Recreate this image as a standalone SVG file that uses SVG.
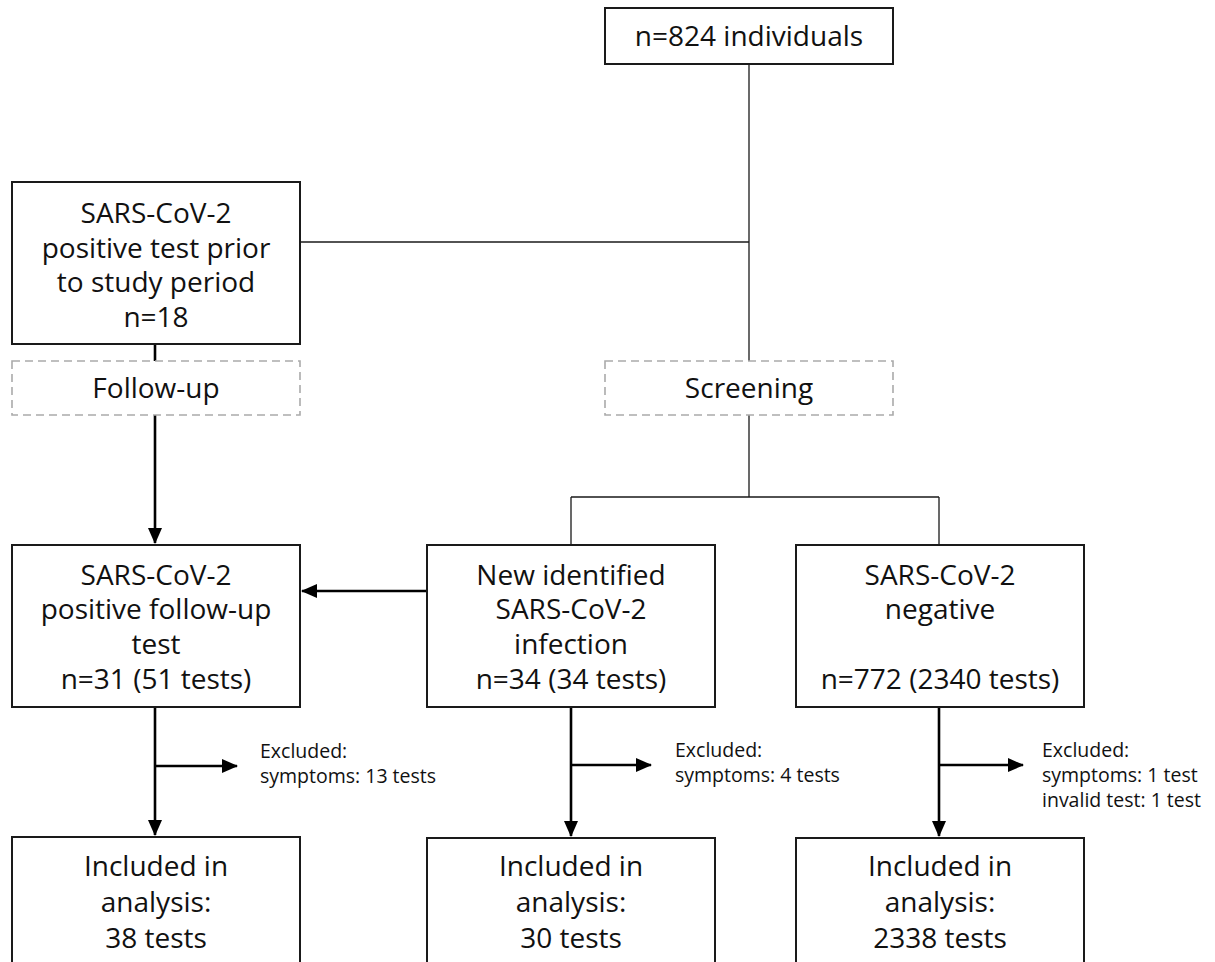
<svg xmlns="http://www.w3.org/2000/svg" width="1215" height="962" viewBox="0 0 1215 962">
<style>
.box{fill:#fff;stroke:#1a1a1a;stroke-width:2}
.dbox{fill:#fff;stroke:#aaa;stroke-width:1.6;stroke-dasharray:8,5}
.t{font-family:"Open Sans","Noto Sans",sans-serif;font-size:28px;fill:#111;text-anchor:middle}
.s{font-family:"Open Sans","Noto Sans",sans-serif;font-size:19.5px;fill:#111}
.thin{stroke:#1a1a1a;stroke-width:1.3;fill:none}
.thick{stroke:#000;stroke-width:2.6;fill:none}
</style>
<defs>
<marker id="ah" markerWidth="16" markerHeight="14" refX="15" refY="7" orient="auto" markerUnits="userSpaceOnUse">
<path d="M0,0 L16,7 L0,14 Z" fill="#000"/>
</marker>
</defs>
<g id="connectors">
<path class="thin" d="M749,64 V361"/>
<path class="thin" d="M300,242 H749"/>
<path class="thick" d="M155,344 V361"/>
<path class="thin" d="M749,415 V497 M571,497 H939 M571,497 V545 M939,497 V545"/>
<path class="thick" d="M155,415 V543" marker-end="url(#ah)"/>
<path class="thick" d="M427,591 H302" marker-end="url(#ah)"/>
<path class="thick" d="M155,707 V835" marker-end="url(#ah)"/>
<path class="thick" d="M571,707 V836" marker-end="url(#ah)"/>
<path class="thick" d="M939,707 V836" marker-end="url(#ah)"/>
<path class="thick" d="M155,766 H237" marker-end="url(#ah)"/>
<path class="thick" d="M571,765 H651" marker-end="url(#ah)"/>
<path class="thick" d="M939,765 H1023" marker-end="url(#ah)"/>
</g>
<g id="top">
<rect class="box" x="605" y="8" width="288" height="56"/>
<text class="t" x="749" y="46">n=824 individuals</text>
</g>
<g id="prior">
<rect class="box" x="12" y="182" width="288" height="162"/>
<text class="t" x="156" y="223">SARS-CoV-2<tspan x="156" dy="35">positive test prior</tspan><tspan x="156" dy="34">to study period</tspan><tspan x="156" dy="35">n=18</tspan></text>
</g>
<g id="followup">
<rect class="dbox" x="12" y="361" width="288" height="54"/>
<text class="t" x="156" y="398">Follow-up</text>
</g>
<g id="screening">
<rect class="dbox" x="605" y="361" width="288" height="54"/>
<text class="t" x="749" y="398">Screening</text>
</g>
<g id="posfollow">
<rect class="box" x="12" y="545" width="288" height="162"/>
<text class="t" x="156" y="585">SARS-CoV-2<tspan x="156" dy="34">positive follow-up</tspan><tspan x="156" dy="35">test</tspan><tspan x="156" dy="35">n=31 (51 tests)</tspan></text>
</g>
<g id="newinf">
<rect class="box" x="427" y="545" width="288" height="162"/>
<text class="t" x="571" y="585">New identified<tspan x="571" dy="34">SARS-CoV-2</tspan><tspan x="571" dy="35">infection</tspan><tspan x="571" dy="35">n=34 (34 tests)</tspan></text>
</g>
<g id="negative">
<rect class="box" x="796" y="545" width="288" height="162"/>
<text class="t" x="940" y="585">SARS-CoV-2<tspan x="940" dy="34">negative</tspan><tspan x="940" dy="70">n=772 (2340 tests)</tspan></text>
</g>
<g id="excl1">
<text class="s" x="260" y="758">Excluded:<tspan x="260" dy="25">symptoms: 13 tests</tspan></text>
</g>
<g id="excl2">
<text class="s" x="675" y="757">Excluded:<tspan x="675" dy="25">symptoms: 4 tests</tspan></text>
</g>
<g id="excl3">
<text class="s" x="1042" y="757">Excluded:<tspan x="1042" dy="25">symptoms: 1 test</tspan><tspan x="1042" dy="25">invalid test: 1 test</tspan></text>
</g>
<g id="inc1">
<rect class="box" x="12" y="837" width="288" height="140"/>
<text class="t" x="156" y="876">Included in<tspan x="156" dy="36">analysis:</tspan><tspan x="156" dy="36">38 tests</tspan></text>
</g>
<g id="inc2">
<rect class="box" x="427" y="838" width="288" height="140"/>
<text class="t" x="571" y="876">Included in<tspan x="571" dy="36">analysis:</tspan><tspan x="571" dy="36">30 tests</tspan></text>
</g>
<g id="inc3">
<rect class="box" x="796" y="838" width="288" height="140"/>
<text class="t" x="940" y="876">Included in<tspan x="940" dy="36">analysis:</tspan><tspan x="940" dy="36">2338 tests</tspan></text>
</g>
</svg>
